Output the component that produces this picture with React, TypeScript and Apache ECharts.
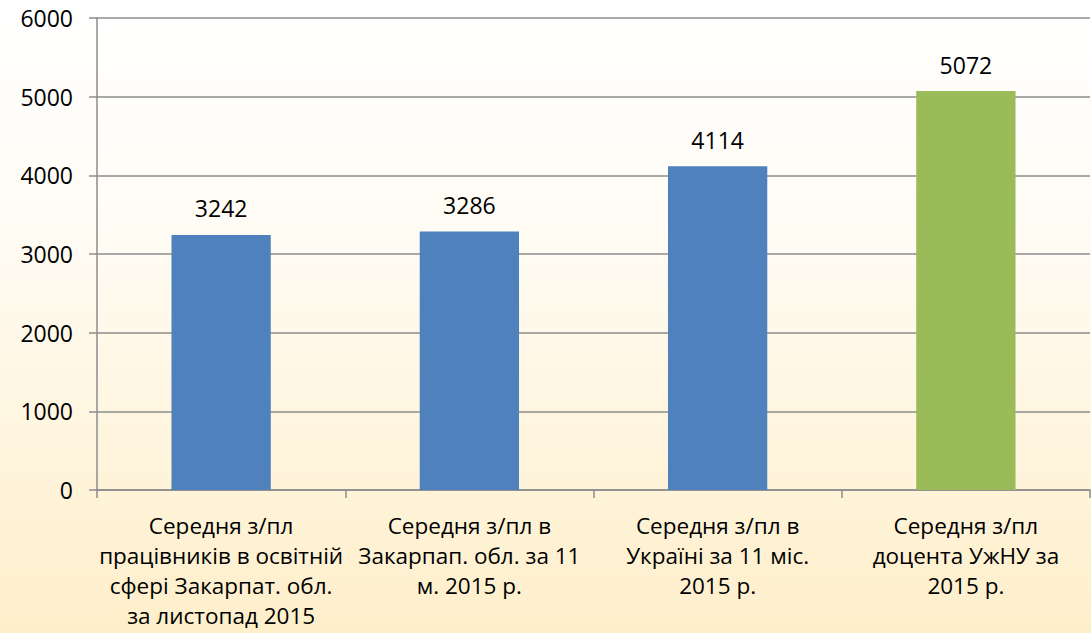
import React, { useEffect, useRef } from "react";
import * as echarts from "echarts";

const categories = [
  "Середня з/пл\nпрацівників в освітній\nсфері Закарпат. обл.\nза листопад 2015",
  "Середня з/пл в\nЗакарпап. обл. за 11\nм. 2015 р.",
  "Середня з/пл в\nУкраїні за 11 міс.\n2015 р.",
  "Середня з/пл\nдоцента УжНУ за\n2015 р.",
];
const values = [3242, 3286, 4114, 5072];
const barColors = ["#4F81BD", "#4F81BD", "#4F81BD", "#9BBB59"];
const yTicks = { min: 0, max: 6000, interval: 1000 };

export default function App() {
  const ref = useRef<HTMLDivElement>(null);
  useEffect(() => {
    if (!ref.current) return;
    const chart = echarts.init(ref.current, undefined, { renderer: "svg" });
    const font = "'Open Sans', 'Noto Sans', sans-serif";
    chart.setOption({
      animation: false,
      grid: { left: 97, right: 1, top: 18, bottom: 143, containLabel: false },
      xAxis: {
        type: "category",
        data: categories,
        axisLine: { lineStyle: { color: "#8C8C8C", width: 1.5 } },
        axisTick: { show: true, length: 8, lineStyle: { color: "#8C8C8C", width: 1.5 } },
        axisLabel: {
          color: "#000",
          fontSize: 22.5,
          fontFamily: font,
          lineHeight: 30,
          margin: 20,
          interval: 0,
          align: "center",
        },
      },
      yAxis: {
        type: "value",
        min: yTicks.min,
        max: yTicks.max,
        interval: yTicks.interval,
        axisLine: { show: true, lineStyle: { color: "#8C8C8C", width: 1.5 } },
        axisTick: { show: true, length: 8, lineStyle: { color: "#8C8C8C", width: 1.5 } },
        splitLine: { show: true, lineStyle: { color: "#8C8C8C", width: 1.5 } },
        axisLabel: {
          color: "#000",
          fontSize: 23,
          fontFamily: font,
          margin: 24,
          formatter: (v: number) => String(v),
        },
      },
      series: [
        {
          type: "bar",
          data: values.map((v, i) => ({ value: v, itemStyle: { color: barColors[i] } })),
          barWidth: "40%",
          label: {
            show: true,
            position: "top",
            distance: 15,
            color: "#000",
            fontSize: 23,
            fontFamily: font,
          },
        },
      ],
    });
    return () => chart.dispose();
  }, []);
  return (
    <div
      style={{
        position: "fixed",
        left: 0,
        top: 0,
        width: 1091,
        height: 633,
        background: "linear-gradient(to bottom, #FFFFFF 0%, #FFFCF5 35%, #FFF5DE 70%, #FEEFCA 100%)",
      }}
    >
      <div ref={ref} style={{ width: 1091, height: 633 }} />
    </div>
  );
}
